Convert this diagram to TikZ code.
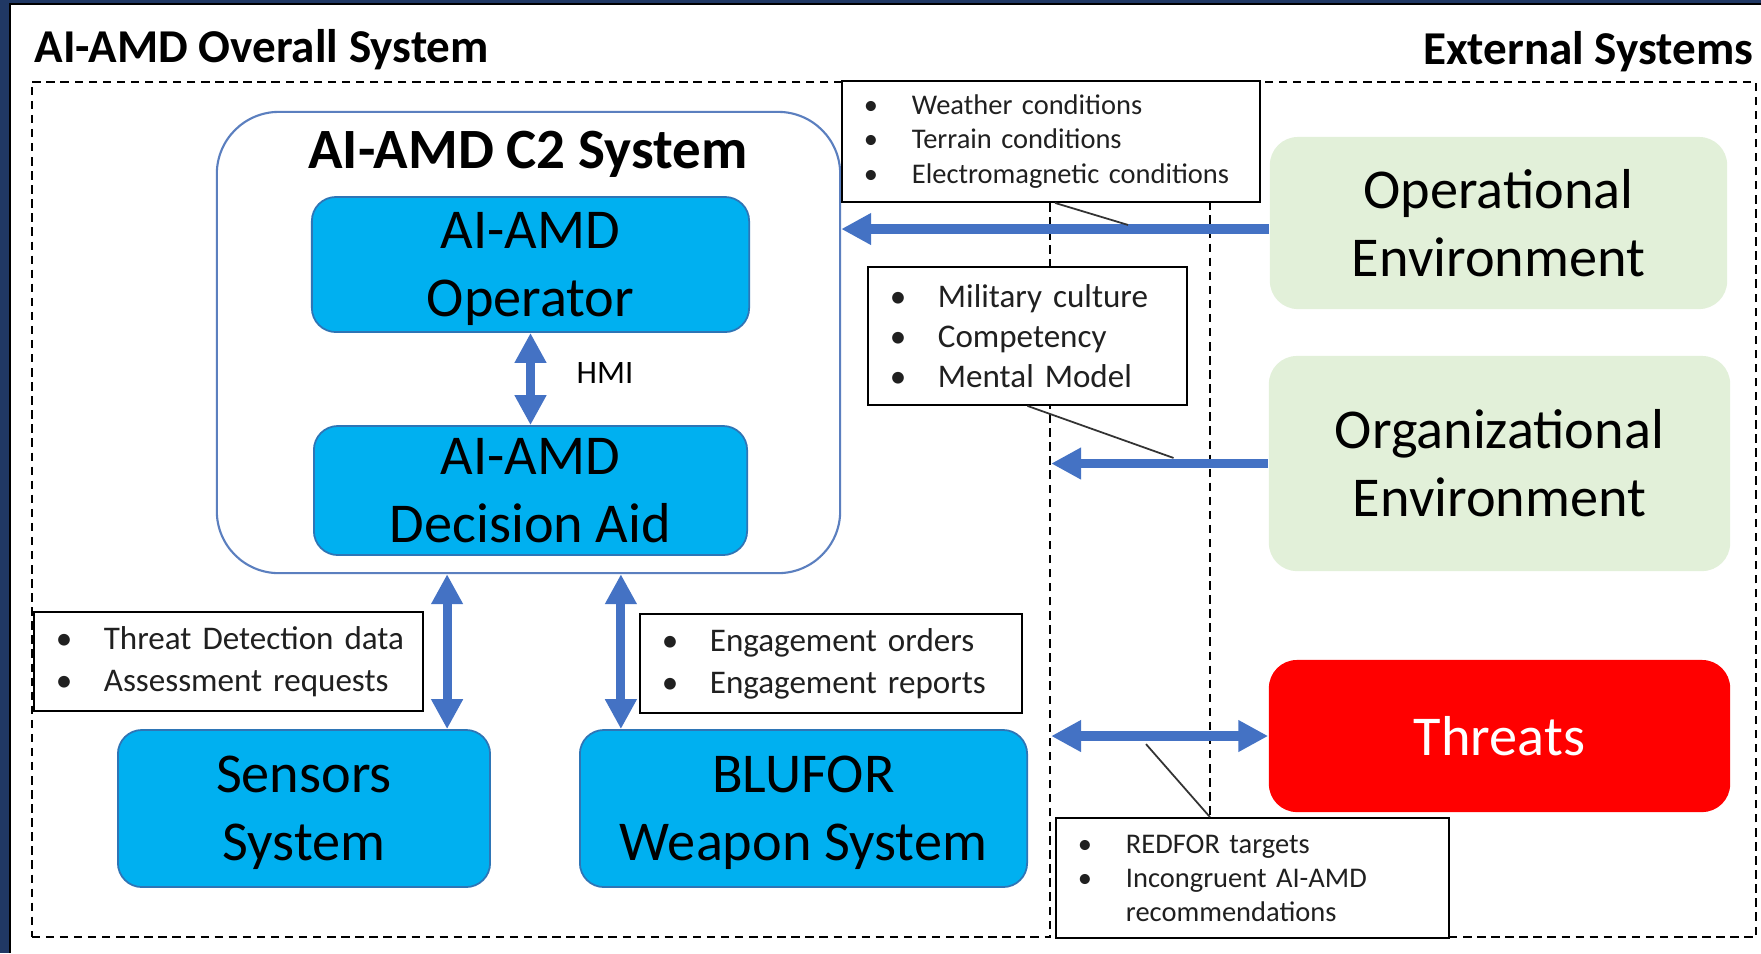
\documentclass[tikz,border=0pt]{standalone}
\usepackage{fontspec}
\setmainfont{Carlito}
\usetikzlibrary{arrows.meta, positioning, calc}
\definecolor{SlideNavy}{HTML}{203864}
\definecolor{BoxCyan}{HTML}{00B0F0}
\definecolor{BoxCyanEdge}{HTML}{2E75B6}
\definecolor{FlowBlue}{HTML}{4472C4}
\definecolor{EnvGreen}{HTML}{E2F0D9}
\definecolor{ThreatRed}{HTML}{FF0000}
\definecolor{FrameBlue}{HTML}{5B7FBF}
\definecolor{NoteText}{HTML}{202020}

\newcommand{\bpt}{\makebox[0.48cm][l]{\textbullet}}
\newcommand{\boxtop}{\rule{0pt}{13.6pt}}
\newcommand{\boxbot}{\rule[-3.2pt]{0pt}{0pt}}

\tikzset{
  sysbox/.style={draw=BoxCyanEdge, fill=BoxCyan, rounded corners=0.24cm,
    line width=0.5pt, align=center, inner sep=0pt,
    font=\fontsize{16}{19.4}\selectfont},
  envbox/.style={fill=EnvGreen, rounded corners=0.28cm, align=center,
    inner sep=0pt, font=\fontsize{16}{19.4}\selectfont},
  threatbox/.style={fill=ThreatRed, text=white, rounded corners=0.28cm,
    inner sep=0pt, font=\fontsize{16}{19.4}\selectfont},
  notebox/.style={draw=black, fill=white, line width=0.5pt, align=left,
    inner xsep=0.22cm, inner ysep=0pt, text=NoteText},
  boundary/.style={draw=black, line width=0.5pt,
    dash pattern=on 2.4pt off 1.6pt, inner sep=0pt},
  flow/.style={draw=FlowBlue, line width=2.6pt,
    -{Triangle[length=8.5pt,width=8.5pt]}},
  dflow/.style={draw=FlowBlue, line width=2.6pt,
    {Triangle[length=8.5pt,width=8.5pt]}-{Triangle[length=8.5pt,width=8.5pt]}},
  callout/.style={draw=black!80, line width=0.5pt},
}

\begin{document}
\begin{tikzpicture}[x=0.01cm, y=-0.01cm]
  % slide frame
  \useasboundingbox (0,0) rectangle (1761,953);
  \fill[SlideNavy] (0,0) rectangle (1761,953);
  \fill[white] (10,4) rectangle (1761,953);
  \draw[black, line width=0.6pt] (10,953) -- (10,4) -- (1761,4);

  % titles
  \node[anchor=base west, inner sep=0pt, font=\bfseries\fontsize{13.4}{16}\selectfont]
    (overalltitle) at (34,62) {AI-AMD Overall System};
  \node[anchor=base east, inner sep=0pt, font=\bfseries\fontsize{13.4}{16}\selectfont]
    (externaltitle) at (1754,64) {External Systems};

  % dashed system boundaries
  \node[boundary, minimum width=10.18cm, minimum height=8.55cm] (overall) at (541,509.5) {};
  \node[boundary, minimum width=5.46cm, minimum height=8.55cm] (external) at (1483,509.5) {};

  % C2 system
  \node[draw=FrameBlue, fill=white, rounded corners=0.62cm, line width=0.6pt,
        minimum width=6.23cm, minimum height=4.61cm, inner sep=0pt] (c2) at (528.5,342.5) {};
  \node[anchor=base, inner sep=0pt, font=\bfseries\fontsize{16.2}{19}\selectfont]
    (c2title) at (528,168) {AI-AMD C2 System};
  \node[sysbox, minimum width=4.37cm, minimum height=1.35cm] (operator) at (530.5,264.5)
    {\boxtop AI-AMD\\Operator\boxbot};
  \node[sysbox, minimum width=4.33cm, minimum height=1.29cm] (decision) at (530.5,490.5)
    {\boxtop AI-AMD\\Decision Aid\boxbot};
  \draw[dflow] (operator.south) -- (decision.north);
  \node[anchor=west, inner sep=0pt, font=\fontsize{9.3}{11}\selectfont] (hmi) at (576,373) {HMI};

  % sensors and weapons
  \node[sysbox, minimum width=3.72cm, minimum height=1.57cm] (sensors) at (304,808.5)
    {\boxtop Sensors\\System\boxbot};
  \node[sysbox, minimum width=4.47cm, minimum height=1.57cm] (blufor) at (803.5,808.5)
    {\boxtop BLUFOR\\Weapon System\boxbot};
  \draw[dflow] ([xshift=1.43cm]sensors.north |- c2.south) -- ([xshift=1.43cm]sensors.north);
  \draw[dflow] ([xshift=-1.825cm]blufor.north |- c2.south) -- ([xshift=-1.825cm]blufor.north);
  \node[notebox, text width=3.45cm, minimum height=0.99cm,
        font=\fontsize{9.4}{12}\selectfont] (detect) at (228.5,661.5)
    {\mbox{\bpt Threat Detection data}\\\bpt Assessment requests};
  \node[notebox, text width=3.38cm, minimum height=0.99cm,
        font=\fontsize{9.4}{12}\selectfont] (engage) at (831,663.5)
    {\bpt Engagement orders\\\bpt Engagement reports};

  % external systems
  \node[envbox, minimum width=4.57cm, minimum height=1.72cm] (openv) at (1498.5,223)
    {Operational\\Environment};
  \node[envbox, minimum width=4.61cm, minimum height=2.15cm] (orgenv) at (1499.5,463.5)
    {Organizational\\Environment};
  \node[threatbox, minimum width=4.61cm, minimum height=1.52cm] (threats) at (1499.5,736) {Threats};

  % flows into the C2 system
  \draw[flow] ([yshift=-0.06cm]openv.west) -- ([yshift=-0.06cm]openv.west -| c2.east);
  \draw[flow] (orgenv.west) -- (orgenv.west -| overall.east);
  \draw[dflow] (threats.west) -- (threats.west -| overall.east);

  % notes on the flows
  \node[notebox, text width=3.74cm, minimum height=1.21cm,
        font=\fontsize{8.1}{9.7}\selectfont] (weather) at (1051,141.5)
    {\bpt Weather conditions\\\bpt Terrain conditions\\\bpt Electromagnetic conditions};
  \node[notebox, text width=2.75cm, minimum height=1.38cm,
        font=\fontsize{9.4}{11.4}\selectfont] (culture) at (1027.5,336)
    {\bpt Military culture\\\bpt Competency\\\bpt Mental Model};
  \node[notebox, text width=3.49cm, minimum height=1.20cm,
        font=\fontsize{8.1}{9.7}\selectfont] (redfor) at (1252.5,878)
    {\bpt REDFOR targets\\\bpt Incongruent AI-AMD\\\hspace*{0.48cm}recommendations};
  \draw[callout] ([xshift=0.04cm]weather.south) -- ++(73,22);
  \draw[callout] (culture.south) -- ++(146,52);
  \draw[callout] ([xshift=-0.425cm]redfor.north) -- ++(-64,-73);
\end{tikzpicture}
\end{document}
